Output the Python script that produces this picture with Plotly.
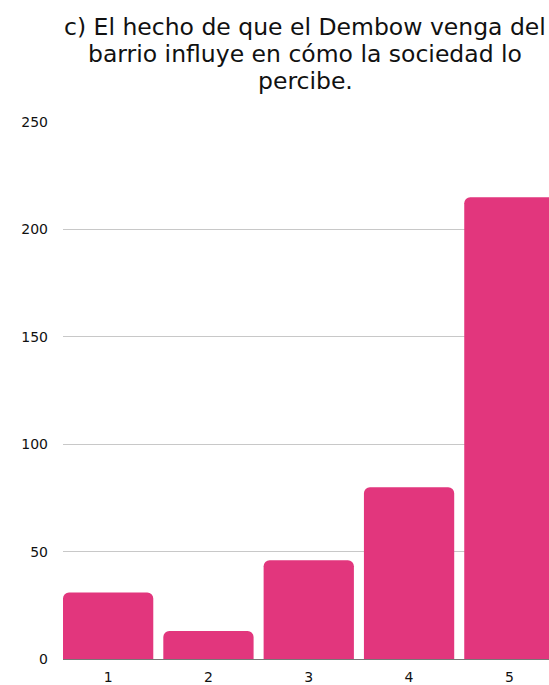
import plotly.graph_objects as go

categories = ["1", "2", "3", "4", "5"]
values = [31, 13, 46, 80, 215]
y_ticks = [0, 50, 100, 150, 200, 250]
title_lines = [
    "c) El hecho de que el Dembow venga del",
    "barrio influye en cómo la sociedad lo",
    "percibe.",
]

x_pos = [i + 1 for i in range(len(categories))]

FONT = "DejaVu Sans, sans-serif"

fig = go.Figure(go.Bar(
    x=x_pos, y=values, width=0.9,
    marker=dict(color="#E2367D", line=dict(width=0)),
    hoverinfo="skip",
))

title_y = [1.177, 1.1265, 1.0762]
for line, yy in zip(title_lines, title_y):
    fig.add_annotation(
        text=line, xref="paper", yref="paper", x=0.498, y=yy,
        xanchor="center", yanchor="middle", showarrow=False,
        font=dict(family=FONT, size=23.5, color="#111"),
    )

fig.update_layout(
    width=549, height=685,
    margin=dict(l=63, r=0, t=122, b=26),
    paper_bgcolor="white", plot_bgcolor="white",
    barcornerradius=6,
    showlegend=False,
    font=dict(family=FONT, color="#111"),
    xaxis=dict(
        range=[0.55, 5.395], tickmode="array", tickvals=x_pos, ticktext=categories,
        showgrid=False, zeroline=False, showline=False, ticks="",
        ticklabelstandoff=8,
        tickfont=dict(size=14, color="#111"), fixedrange=True,
    ),
    yaxis=dict(
        range=[0, 250], tickmode="array", tickvals=y_ticks,
        showgrid=True, gridcolor="#C8C8C8", gridwidth=1,
        zeroline=True, zerolinecolor="#777", zerolinewidth=1,
        showline=False, ticks="", ticklabelstandoff=14,
        tickfont=dict(size=14, color="#111"), fixedrange=True,
    ),
)

fig.write_html(
    "out.html",
    config={"displayModeBar": False, "staticPlot": True},
    post_script="document.body.style.margin='0';document.body.style.overflow='hidden';",
)
